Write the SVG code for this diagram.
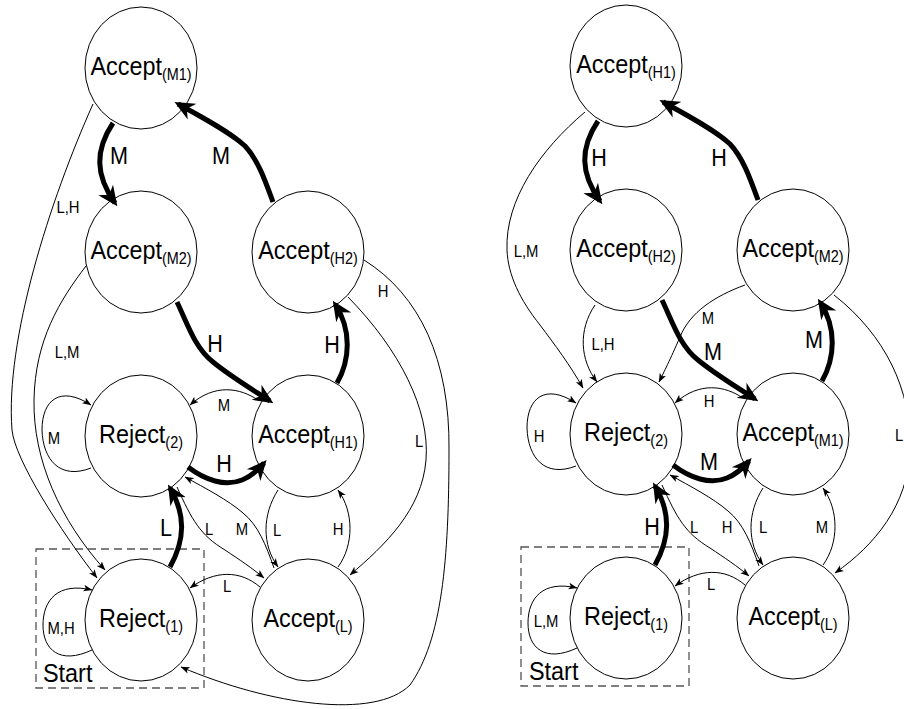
<svg xmlns="http://www.w3.org/2000/svg" width="904" height="709" viewBox="0 0 904 709">
<style>
text{font-family:"Liberation Sans",Arial,Helvetica,sans-serif;fill:#000}
.node ellipse{fill:#fff;stroke:#000;stroke-width:1}
.n{font-size:26px;text-anchor:middle}
.s{font-size:16px}
.thin{fill:none;stroke:#000;stroke-width:1;marker-end:url(#a)}
.thick{fill:none;stroke:#000;stroke-width:5;marker-end:url(#A)}
.big{font-size:24px;text-anchor:middle}
.sm{font-size:16.5px;text-anchor:middle}
.box{fill:none;stroke:#555;stroke-width:1.3;stroke-dasharray:8 5}
.st{font-size:26px}
</style>
<defs>
<marker id="a" markerUnits="userSpaceOnUse" viewBox="0 0 10 10" refX="9.5" refY="5" markerWidth="9" markerHeight="9" orient="auto"><path d="M0,1.2 L10,5 L0,8.8 L2.5,5 z" fill="#000"/></marker>
<marker id="A" markerUnits="userSpaceOnUse" viewBox="0 0 10 10" refX="8" refY="5" markerWidth="20" markerHeight="20" orient="auto"><path d="M0,0.5 L10,5 L0,9.5 L3,5 z" fill="#000"/></marker>
</defs>
<rect width="904" height="709" fill="#fff"/>

<g id="left-diagram">
<rect class="box" x="36" y="549" width="168" height="139"/>
<text class="st" transform="translate(43,682) scale(0.9,1)">Start</text>
<g id="L-A_M1" class="node"><ellipse cx="141" cy="68" rx="56" ry="61"/><text class="n" transform="translate(141,75) scale(0.9,1)">Accept<tspan class="s" dy="5">(M1)</tspan></text></g>
<g id="L-A_M2" class="node"><ellipse cx="141" cy="252" rx="56" ry="61"/><text class="n" transform="translate(141,259) scale(0.9,1)">Accept<tspan class="s" dy="5">(M2)</tspan></text></g>
<g id="L-A_H2" class="node"><ellipse cx="308" cy="252" rx="56" ry="61"/><text class="n" transform="translate(308,259) scale(0.9,1)">Accept<tspan class="s" dy="5">(H2)</tspan></text></g>
<g id="L-R2" class="node"><ellipse cx="141" cy="436" rx="56" ry="61"/><text class="n" transform="translate(141,443) scale(0.9,1)">Reject<tspan class="s" dy="5">(2)</tspan></text></g>
<g id="L-A_H1" class="node"><ellipse cx="308" cy="436" rx="56" ry="61"/><text class="n" transform="translate(308,443) scale(0.9,1)">Accept<tspan class="s" dy="5">(H1)</tspan></text></g>
<g id="L-R1" class="node"><ellipse cx="141" cy="620" rx="56" ry="61"/><text class="n" transform="translate(141,627) scale(0.9,1)">Reject<tspan class="s" dy="5">(1)</tspan></text></g>
<g id="L-A_L" class="node"><ellipse cx="308" cy="620" rx="56" ry="61"/><text class="n" transform="translate(308,627) scale(0.9,1)">Accept<tspan class="s" dy="5">(L)</tspan></text></g>
<g id="L-connectors">
<path class="thick" d="M 113 123 C 95 150, 95 175, 115 203"/>
<path class="thick" d="M 273 202 C 265 180, 258 160, 245 146 C 230 132, 200 116, 178 104"/>
<path class="thin" d="M 93 104 C 50 200, 5 340, 12 430 C 15 460, 60 530, 97 578"/>
<path class="thin" d="M 86 266 C 60 300, 35 340, 34 400 C 33 460, 60 520, 105 570"/>
<path class="thin" d="M 91 468 C 60 480, 43 460, 42 430 C 42 400, 60 385, 91 405"/>
<path class="thin" d="M 92 650 C 60 665, 43 650, 43 625 C 43 600, 58 582, 92 590"/>
<path class="thick" d="M 177 302 C 188 325, 195 348, 213 362 C 230 376, 250 388, 270 401"/>
<path class="thick" d="M 337 383 C 350 360, 352 330, 335 304"/>
<path class="thick" d="M 188 467 C 205 480, 225 487, 242 480 C 252 476, 258 470, 264 463"/>
<path class="thin" d="M 258 400 C 240 388, 215 383, 190 405"/>
<path class="thick" d="M 170 567 C 185 540, 186 515, 170 488"/>
<path class="thin" d="M 177 487 C 192 520, 200 535, 225 550 C 240 560, 252 568, 264 578"/>
<path class="thin" d="M 274 568 C 266 545, 258 525, 243 513 C 228 500, 205 488, 185 477"/>
<path class="thin" d="M 278 490 C 262 515, 262 545, 278 567"/>
<path class="thin" d="M 338 567 C 354 545, 354 512, 338 490"/>
<path class="thin" d="M 260 587 C 240 570, 215 570, 190 588"/>
<path class="thin" d="M 364 260 C 420 295, 450 360, 449 450 C 449 560, 442 640, 410 685 C 375 720, 270 705, 181 667"/>
<path class="thin" d="M 348 297 C 400 350, 430 410, 426 460 C 422 510, 385 545, 350 575"/>
<text class="big" transform="translate(119,164) scale(0.9,1)">M</text>
<text class="big" transform="translate(221,164) scale(0.9,1)">M</text>
<text class="sm" transform="translate(68,213) scale(0.9,1)">L,H</text>
<text class="sm" transform="translate(67,358) scale(0.9,1)">L,M</text>
<text class="sm" transform="translate(54,444) scale(0.9,1)">M</text>
<text class="sm" transform="translate(61,634) scale(0.9,1)">M,H</text>
<text class="big" transform="translate(215,352) scale(0.9,1)">H</text>
<text class="big" transform="translate(332,353) scale(0.9,1)">H</text>
<text class="big" transform="translate(224,472) scale(0.9,1)">H</text>
<text class="sm" transform="translate(224,411) scale(0.9,1)">M</text>
<text class="big" transform="translate(166,536) scale(0.9,1)">L</text>
<text class="sm" transform="translate(209,535) scale(0.9,1)">L</text>
<text class="sm" transform="translate(242,535) scale(0.9,1)">M</text>
<text class="sm" transform="translate(277,536) scale(0.9,1)">L</text>
<text class="sm" transform="translate(338,535) scale(0.9,1)">H</text>
<text class="sm" transform="translate(227,592) scale(0.9,1)">L</text>
<text class="sm" transform="translate(383,297) scale(0.9,1)">H</text>
<text class="sm" transform="translate(419,447) scale(0.9,1)">L</text>
</g>
</g>

<g id="right-diagram" transform="translate(485,-2)">
<rect class="box" x="36" y="549" width="168" height="139"/>
<text class="st" transform="translate(44,682) scale(0.9,1)">Start</text>
<g id="R-A_H1" class="node"><ellipse cx="141" cy="68" rx="56" ry="61"/><text class="n" transform="translate(141,75) scale(0.9,1)">Accept<tspan class="s" dy="5">(H1)</tspan></text></g>
<g id="R-A_H2" class="node"><ellipse cx="141" cy="252" rx="56" ry="61"/><text class="n" transform="translate(141,259) scale(0.9,1)">Accept<tspan class="s" dy="5">(H2)</tspan></text></g>
<g id="R-A_M2" class="node"><ellipse cx="308" cy="252" rx="56" ry="61"/><text class="n" transform="translate(308,259) scale(0.9,1)">Accept<tspan class="s" dy="5">(M2)</tspan></text></g>
<g id="R-R2" class="node"><ellipse cx="141" cy="436" rx="56" ry="61"/><text class="n" transform="translate(141,443) scale(0.9,1)">Reject<tspan class="s" dy="5">(2)</tspan></text></g>
<g id="R-A_M1" class="node"><ellipse cx="308" cy="436" rx="56" ry="61"/><text class="n" transform="translate(308,443) scale(0.9,1)">Accept<tspan class="s" dy="5">(M1)</tspan></text></g>
<g id="R-R1" class="node"><ellipse cx="141" cy="620" rx="56" ry="61"/><text class="n" transform="translate(141,627) scale(0.9,1)">Reject<tspan class="s" dy="5">(1)</tspan></text></g>
<g id="R-A_L" class="node"><ellipse cx="308" cy="620" rx="56" ry="61"/><text class="n" transform="translate(308,627) scale(0.9,1)">Accept<tspan class="s" dy="5">(L)</tspan></text></g>
<g id="R-connectors">
<path class="thick" d="M 113 123 C 95 150, 95 175, 115 203"/>
<path class="thick" d="M 273 202 C 265 180, 258 160, 245 146 C 230 132, 200 116, 178 104"/>
<path class="thin" d="M 100 114 C 55 152, 20 202, 22 252 C 23 277, 35 302, 55 327 C 70 347, 85 367, 98 390"/>
<path class="thin" d="M 110 307 C 93 332, 95 362, 112 384"/>
<path class="thin" d="M 91 468 C 60 480, 43 460, 42 430 C 42 400, 60 385, 91 405"/>
<path class="thin" d="M 92 650 C 60 665, 43 650, 43 625 C 43 600, 58 582, 92 590"/>
<path class="thick" d="M 177 302 C 188 325, 195 348, 213 362 C 230 376, 250 388, 270 401"/>
<path class="thin" d="M 260 287 C 230 298, 205 314, 195 339 C 185 362, 179 374, 174 384"/>
<path class="thick" d="M 337 383 C 350 360, 352 330, 335 304"/>
<path class="thick" d="M 188 467 C 205 480, 225 487, 242 480 C 252 476, 258 470, 264 463"/>
<path class="thin" d="M 258 400 C 240 388, 215 383, 190 405"/>
<path class="thick" d="M 170 567 C 185 540, 186 515, 170 488"/>
<path class="thin" d="M 177 487 C 192 520, 200 535, 225 550 C 240 560, 252 568, 264 578"/>
<path class="thin" d="M 274 568 C 266 545, 258 525, 243 513 C 228 500, 205 488, 185 477"/>
<path class="thin" d="M 278 490 C 262 515, 262 545, 278 567"/>
<path class="thin" d="M 338 567 C 354 545, 354 512, 338 490"/>
<path class="thin" d="M 260 587 C 240 570, 215 570, 190 588"/>
<path class="thin" d="M 349 297 C 400 337, 427 392, 425 452 C 423 507, 390 547, 350 575"/>
<text class="big" transform="translate(114,168) scale(0.9,1)">H</text>
<text class="big" transform="translate(234,168) scale(0.9,1)">H</text>
<text class="sm" transform="translate(41,259) scale(0.9,1)">L,M</text>
<text class="sm" transform="translate(118,352) scale(0.9,1)">L,H</text>
<text class="sm" transform="translate(54,444) scale(0.9,1)">H</text>
<text class="sm" transform="translate(61,629) scale(0.9,1)">L,M</text>
<text class="big" transform="translate(228,362) scale(0.9,1)">M</text>
<text class="sm" transform="translate(223,326) scale(0.9,1)">M</text>
<text class="big" transform="translate(329,350) scale(0.9,1)">M</text>
<text class="big" transform="translate(224,472) scale(0.9,1)">M</text>
<text class="sm" transform="translate(224,409) scale(0.9,1)">H</text>
<text class="big" transform="translate(167,537) scale(0.9,1)">H</text>
<text class="sm" transform="translate(209,535) scale(0.9,1)">L</text>
<text class="sm" transform="translate(242,535) scale(0.9,1)">H</text>
<text class="sm" transform="translate(278,535) scale(0.9,1)">L</text>
<text class="sm" transform="translate(337,535) scale(0.9,1)">M</text>
<text class="sm" transform="translate(226,592) scale(0.9,1)">L</text>
<text class="sm" transform="translate(414,443) scale(0.9,1)">L</text>
</g>
</g>
</svg>
